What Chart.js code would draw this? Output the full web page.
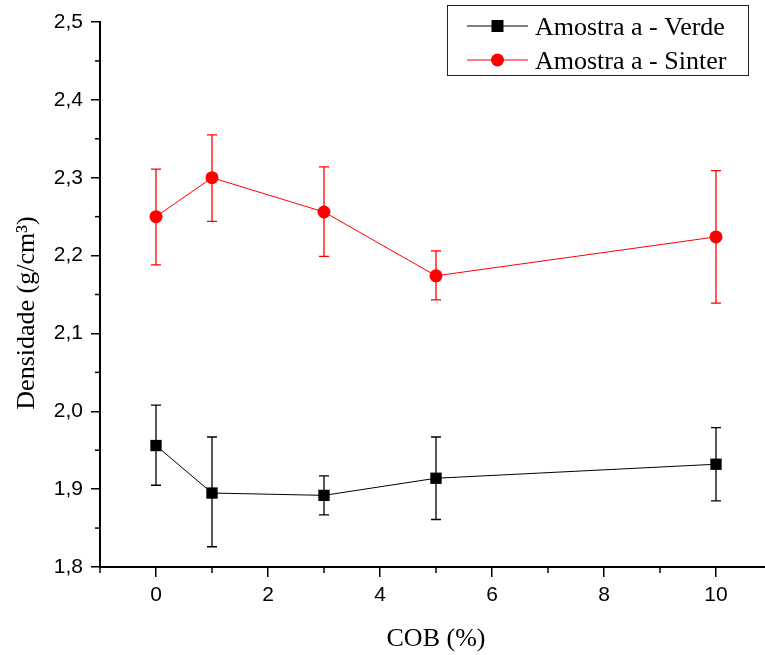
<!DOCTYPE html>
<html lang="pt">
<head>
    <meta charset="UTF-8">
    <title>Densidade x COB</title>
    <style>
        html, body { margin: 0; padding: 0; background: #fff; }
    </style>
</head>
<body>
    <canvas id="myChart" width="765" height="655"></canvas>

    <script src="https://cdn.jsdelivr.net/npm/chart.js"></script>

    <script>
        // COB content (%)
        const cobValues = [0, 1, 3, 5, 10];
        const xTickValues = [-1, 0, 1, 2, 3, 4, 5, 6, 7, 8, 9, 10];

        // Amostra a - Verde
        const verdeMean = [1.956, 1.895, 1.892, 1.914, 1.932];
        const verdeLow  = [1.905, 1.826, 1.867, 1.861, 1.885];
        const verdeHigh = [2.008, 1.967, 1.917, 1.967, 1.979];

        // Amostra a - Sinter
        const sinterMean = [2.250, 2.300, 2.256, 2.174, 2.224];
        const sinterLow  = [2.188, 2.244, 2.199, 2.143, 2.139];
        const sinterHigh = [2.311, 2.355, 2.314, 2.206, 2.309];

        const seriesLabels = ['Amostra a - Verde', 'Amostra a - Sinter'];
        const xTitle = 'COB (%)';
        const yTitle = 'Densidade (g/cm³)';

        const serif = '"Liberation Serif", "Times New Roman", serif';
        const sans = '"Liberation Sans", Arial, sans-serif';

        function toPoints(xs, ys) {
            return xs.map((x, i) => ({ x: x, y: ys[i] }));
        }

        function isMajorY(v) {
            return Math.abs(v * 10 - Math.round(v * 10)) < 1e-6;
        }
        function isMajorX(v) {
            return Number.isInteger(v) && v % 2 === 0;
        }

        // error bars, drawn under the markers
        const errorBars = {
            id: 'errorBars',
            beforeDatasetsDraw(chart) {
                const c = chart.ctx;
                const xs = chart.scales.x, ys = chart.scales.y;
                chart.data.datasets.forEach(ds => {
                    c.save();
                    c.strokeStyle = ds.borderColor;
                    c.lineWidth = 1.3;
                    ds.lows.forEach((lo, i) => {
                        const px = xs.getPixelForValue(ds.data[i].x);
                        const top = ys.getPixelForValue(ds.highs[i]);
                        const bot = ys.getPixelForValue(lo);
                        c.beginPath();
                        c.moveTo(px, top); c.lineTo(px, bot);
                        c.moveTo(px - 5, top); c.lineTo(px + 5, top);
                        c.moveTo(px - 5, bot); c.lineTo(px + 5, bot);
                        c.stroke();
                    });
                    c.restore();
                });
            }
        };

        // minor ticks, axis titles and the boxed legend
        const decorations = {
            id: 'decorations',
            afterDraw(chart) {
                const c = chart.ctx;
                const xs = chart.scales.x, ys = chart.scales.y;
                const area = chart.chartArea;
                c.save();
                c.strokeStyle = '#000';
                c.lineWidth = 1.5;
                ys.ticks.forEach(t => {
                    if (isMajorY(t.value)) return;
                    const py = ys.getPixelForValue(t.value);
                    c.beginPath();
                    c.moveTo(area.left - 5, py); c.lineTo(area.left, py);
                    c.stroke();
                });
                xs.ticks.forEach(t => {
                    if (isMajorX(t.value)) return;
                    const px = xs.getPixelForValue(t.value);
                    c.beginPath();
                    c.moveTo(px, area.bottom); c.lineTo(px, area.bottom + 6);
                    c.stroke();
                });

                // axis titles
                c.fillStyle = '#000';
                c.font = '26px ' + serif;
                c.textAlign = 'center';
                c.textBaseline = 'alphabetic';
                c.fillText(xTitle, 436, 646);
                c.save();
                c.translate(34, 313);
                c.rotate(-Math.PI / 2);
                c.fillText(yTitle, 0, 0);
                c.restore();

                // legend
                c.strokeStyle = '#222';
                c.lineWidth = 1;
                c.strokeRect(447.5, 5.5, 301, 70);
                const rows = [26, 60];
                chart.data.datasets.forEach((ds, i) => {
                    const y = rows[i];
                    c.strokeStyle = ds.borderColor;
                    c.lineWidth = 1;
                    c.beginPath();
                    c.moveTo(467, y); c.lineTo(528, y);
                    c.stroke();
                    c.fillStyle = ds.backgroundColor;
                    if (ds.pointStyle === 'rect') {
                        c.fillRect(491.5, y - 6, 12, 12);
                    } else {
                        c.beginPath();
                        c.arc(497.5, y, 6.5, 0, Math.PI * 2);
                        c.fill();
                    }
                    c.fillStyle = '#000';
                    c.font = '26px ' + serif;
                    c.textAlign = 'left';
                    c.textBaseline = 'middle';
                    c.fillText(ds.label, 535, y + 2);
                });
                c.restore();
            }
        };

        new Chart(document.getElementById('myChart'), {
            type: 'line',
            data: {
                datasets: [{
                    label: seriesLabels[0],
                    data: toPoints(cobValues, verdeMean),
                    lows: verdeLow,
                    highs: verdeHigh,
                    borderColor: '#000000',
                    backgroundColor: '#000000',
                    borderWidth: 1,
                    pointStyle: 'rect',
                    pointRadius: 8,
                    pointBorderWidth: 0,
                    tension: 0
                }, {
                    label: seriesLabels[1],
                    data: toPoints(cobValues, sinterMean),
                    lows: sinterLow,
                    highs: sinterHigh,
                    borderColor: '#ff0000',
                    backgroundColor: '#ff0000',
                    borderWidth: 1,
                    pointStyle: 'circle',
                    pointRadius: 6.5,
                    pointBorderWidth: 0,
                    tension: 0
                }]
            },
            options: {
                responsive: false,
                animation: false,
                layout: {
                    autoPadding: false,
                    padding: { top: 22, right: 0, left: 0, bottom: 0 }
                },
                plugins: {
                    legend: { display: false },
                    tooltip: { enabled: false }
                },
                scales: {
                    x: {
                        type: 'linear',
                        min: -1,
                        max: 10.875,
                        afterBuildTicks: s => {
                            s.ticks = xTickValues.map(v => ({ value: v }));
                        },
                        afterFit: s => {
                            s.height = 88;
                            s.paddingLeft = 0;
                            s.paddingRight = 0;
                        },
                        border: { display: true, color: '#000', width: 2 },
                        grid: {
                            drawOnChartArea: false,
                            drawTicks: true,
                            tickLength: 10,
                            lineWidth: 1.5,
                            color: ctx => isMajorX(ctx.tick.value) ? '#000' : 'rgba(0,0,0,0)'
                        },
                        ticks: {
                            autoSkip: false,
                            maxRotation: 0,
                            padding: 6,
                            color: '#000',
                            font: { family: sans, size: 21 },
                            callback: v => isMajorX(v) && v >= 0 ? String(v) : ''
                        }
                    },
                    y: {
                        min: 1.8,
                        max: 2.5,
                        afterFit: s => { s.width = 100; },
                        border: { display: true, color: '#000', width: 2 },
                        grid: {
                            drawOnChartArea: false,
                            drawTicks: true,
                            tickLength: 9,
                            lineWidth: 1.5,
                            color: ctx => isMajorY(ctx.tick.value) ? '#000' : 'rgba(0,0,0,0)'
                        },
                        ticks: {
                            stepSize: 0.05,
                            autoSkip: false,
                            padding: 8,
                            color: '#000',
                            font: { family: sans, size: 21 },
                            callback: v => isMajorY(v) ? v.toFixed(1).replace('.', ',') : ''
                        }
                    }
                }
            },
            plugins: [errorBars, decorations]
        });
    </script>
</body>
</html>
